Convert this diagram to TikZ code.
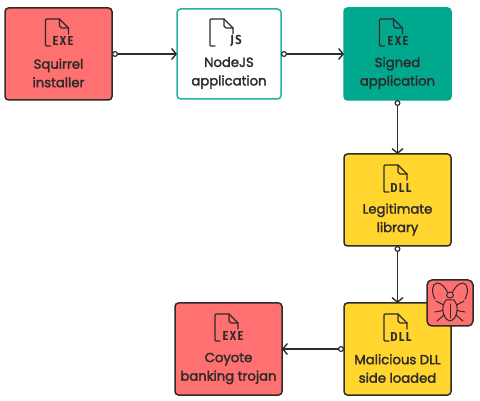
\documentclass[tikz,border=0pt]{standalone}
\usepackage{fontspec}
\setmainfont{Poppins}[FakeBold=2.2]
\newfontfamily\iconfont[LetterSpace=12]{Fira Sans}
\usetikzlibrary{arrows.meta}
\definecolor{inkc}{HTML}{2E2B2B}
\definecolor{redc}{HTML}{FF7070}
\definecolor{tealc}{HTML}{00A88E}
\definecolor{tealb}{HTML}{1DB59E}
\definecolor{yelc}{HTML}{FFD52E}
\tikzset{
  x=1pt,y=-1pt,
  boxs/.style={rectangle,rounded corners=3.5pt,line width=1.5pt,inner sep=0pt,outer sep=0pt,minimum width=107pt,minimum height=92pt,anchor=north west},
  redbox/.style={boxs,draw=inkc,fill=redc},
  whitebox/.style={boxs,draw=tealb,fill=white,minimum width=104pt,minimum height=90pt},
  tealbox/.style={boxs,draw=tealc,fill=tealc},
  yelbox/.style={boxs,draw=inkc,fill=yelc},
  lab/.style={font=\fontsize{13.2}{18.5}\selectfont,text=inkc,align=center,inner sep=0pt},
  iconline/.style={draw=inkc,line width=1.4pt,line cap=round,line join=round},
  icontxt/.style={font=\iconfont\bfseries\fontsize{13}{13}\selectfont,text=inkc,inner sep=0pt,anchor=center},
  link/.style={draw=inkc,line width=1.4pt,{Circle[open,fill=white,length=6pt,width=6pt,line width=1.2pt]}-{Straight Barb[length=4.5pt,width=11pt,line width=1.4pt]}},
}
\newcommand{\fileicon}[2]{%
  \draw[iconline,shift={(#1,#2)}] (5,27) -- (1,27) -- (0,26) -- (0,1) -- (1,0) -- (14,0) -- (23,9) -- (23,15);
  \draw[iconline,shift={(#1,#2)}] (14,0) -- (14,7) -- (16,9) -- (23,9);
}
\begin{document}
\begin{tikzpicture}
\useasboundingbox (0,0) rectangle (480,401);
\node[redbox] (squirrel) at (5,8) {};
\node[whitebox] (nodejs) at (177,9) {};
\node[tealbox] (signed) at (344,8) {};
\node[yelbox] (legit) at (344,154) {};
\node[yelbox] (malicious) at (344,303) {};
\node[redbox] (coyote) at (175,303) {};

\fileicon{45.5}{19}
\node[icontxt] (exe1) at (63,41) {\scalebox{0.85}[1]{EXE}};
\fileicon{210}{19}
\node[icontxt] (js) at (236,41) {\scalebox{0.85}[1]{JS}};
\fileicon{379.5}{19}
\node[icontxt] (exe2) at (398,41) {\scalebox{0.85}[1]{EXE}};
\fileicon{384}{165}
\node[icontxt] (dll1) at (401,187.5) {\scalebox{0.85}[1]{DLL}};
\fileicon{384}{314}
\node[icontxt] (dll2) at (401,336.5) {\scalebox{0.85}[1]{DLL}};
\fileicon{215}{314}
\node[icontxt] (exe3) at (233,336) {\scalebox{0.85}[1]{EXE}};

\node[lab] (t1) at (58.5,73) {Squirrel\\installer};
\node[lab] (t2) at (229,73) {NodeJS\\application};
\node[lab] (t3) at (397.5,73) {Signed\\application};
\node[lab] (t4) at (397.5,219.5) {Legitimate\\library};
\node[lab] (t5) at (397.5,368.5) {Malicious DLL\\side loaded};
\node[lab] (t6) at (228.5,368.5) {Coyote\\banking trojan};

\draw[link] (squirrel.east) -- (nodejs.west);
\draw[link] (nodejs.east) -- (signed.west);
\draw[link] (signed.south) -- (legit.north);
\draw[link] (legit.south) -- (malicious.north);
\draw[link] (malicious.west) -- (coyote.east);

\node[boxs,draw=inkc,fill=redc,minimum width=46pt,minimum height=46pt,rounded corners=5pt] (badge) at (427,280) {};
\begin{scope}[iconline,line width=1pt]
\draw (450,295) ellipse [x radius=3.5,y radius=3];
\draw (446,300) -- (454,300) .. controls (457,304) and (457.5,308) .. (457,311) .. controls (456.5,316) and (454,320) .. (450,321) .. controls (446,320) and (443.5,316) .. (443,311) .. controls (442.5,308) and (443,304) .. (446,300);
\draw (450,304) -- (450,318);
\draw (447.5,292) .. controls (445,287) and (441,283) .. (437,283) .. controls (432,283.5) and (431,292) .. (435,299);
\draw (452.5,292) .. controls (455,287) and (459,283) .. (463,283) .. controls (468,283.5) and (469,292) .. (465,299);
\draw (436,301) -- (443.5,305);
\draw (464,301) -- (456.5,305);
\draw (435,312) -- (443,310.5);
\draw (465,312) -- (457,310.5);
\draw (437,321) -- (444,315);
\draw (463,321) -- (456,315);
\end{scope}
\end{tikzpicture}
\end{document}
